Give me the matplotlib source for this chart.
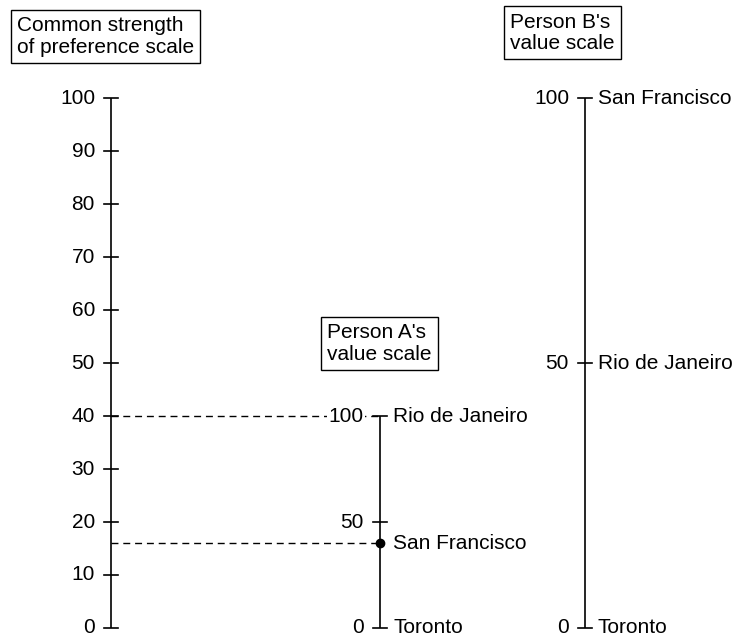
import matplotlib
matplotlib.use("Agg")
import matplotlib.pyplot as plt

plt.rcParams['font.family'] = ['Liberation Sans', 'DejaVu Sans']

# Dados
common_ticks = [0, 10, 20, 30, 40, 50, 60, 70, 80, 90, 100]

a_ticks = [0, 50, 100]
a_top = 40          # person A's 100 sits at 40 on the common scale
a_cities = ["Toronto", "San Francisco", "Rio de Janeiro"]
a_values = [0, 40, 100]

b_ticks = [0, 50, 100]
b_top = 100
b_cities = ["Toronto", "Rio de Janeiro", "San Francisco"]
b_values = [0, 50, 100]

titles = ["Common strength\nof preference scale", "Person A's\nvalue scale", "Person B's\nvalue scale"]

# layout (x in pixels, y in common-scale units)
x_main, x_a, x_b = 111, 380, 585
tick = 7
fs = 15
lw = 1.2

fig = plt.figure(figsize=(7.38, 6.37), dpi=100)
ax = fig.add_axes([0, 0, 1, 1])
ax.set_xlim(0, 738)
ax.set_ylim(-1.7, 118.5)
ax.axis("off")


def escala(x, ticks, top, names=None, values=None):
    ax.plot([x, x], [0, top], color="black", lw=lw, solid_capstyle="butt")
    f = top / 100
    for t in ticks:
        ax.plot([x - tick, x + tick], [t * f, t * f], color="black", lw=lw)
        ax.text(x - tick - 9, t * f, str(t), ha="right", va="center",
                fontsize=fs, bbox=dict(facecolor="white", edgecolor="none", pad=1))
    if names:
        for n, v in zip(names, values):
            ax.text(x + tick + 6, v * f, n, ha="left", va="center", fontsize=fs)


# linhas tracejadas
fa = a_top / 100
for v in [a_values[2], a_values[1]]:
    ax.plot([x_main, x_a], [v * fa, v * fa], color="black", lw=1,
            dashes=(5, 3.5), zorder=1)
ax.plot([x_a], [a_values[1] * fa], "o", color="black", ms=6, zorder=5)

escala(x_main, common_ticks, 100)
escala(x_a, a_ticks, a_top, a_cities, a_values)
escala(x_b, b_ticks, b_top, b_cities, b_values)

box = dict(boxstyle="square,pad=0.3", facecolor="white", edgecolor="black", lw=1)
ax.text(17, 115.4, titles[0], ha="left", va="top", fontsize=fs, linespacing=1.15, bbox=box)
ax.text(327, 57.5, titles[1], ha="left", va="top", fontsize=fs, linespacing=1.15, bbox=box)
ax.text(510, 116.1, titles[2], ha="left", va="top", fontsize=fs, linespacing=1.15, bbox=box)

fig.savefig("out.png", dpi=100)
